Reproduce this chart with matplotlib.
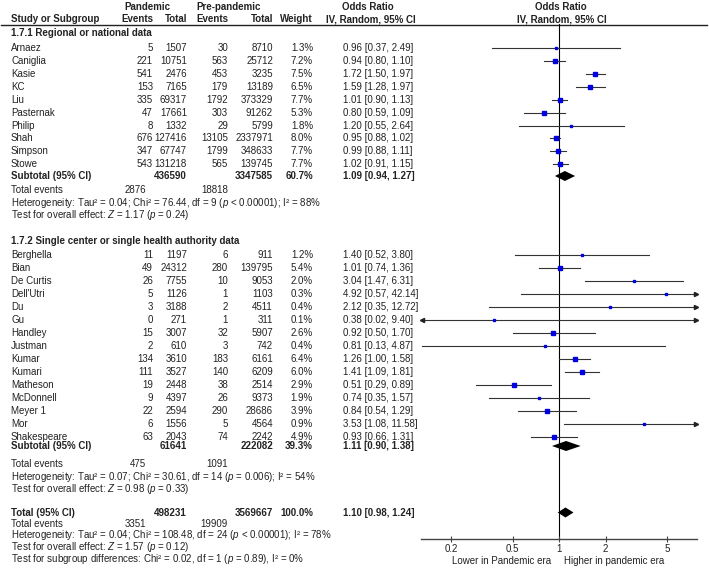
import matplotlib
matplotlib.use('Agg')
import matplotlib.pyplot as plt
import numpy as np

plt.rcParams['font.family'] = ['Liberation Sans', 'DejaVu Sans']
plt.rcParams['mathtext.fontset'] = 'custom'
plt.rcParams['mathtext.it'] = 'Liberation Sans:italic'
plt.rcParams['mathtext.rm'] = 'Liberation Sans'

# ---- data ----
names1 = ['Arnaez', 'Caniglia', 'Kasie', 'KC', 'Liu', 'Pasternak', 'Philip', 'Shah', 'Simpson', 'Stowe']
ev_p1 = [5, 221, 541, 153, 335, 47, 8, 676, 347, 543]
tot_p1 = [1507, 10751, 2476, 7165, 69317, 17661, 1332, 127416, 67747, 131218]
ev_pre1 = [30, 563, 453, 179, 1792, 303, 29, 13105, 1799, 565]
tot_pre1 = [8710, 25712, 3235, 13189, 373329, 91262, 5799, 2337971, 348633, 139745]
w1 = [1.3, 7.2, 7.5, 6.5, 7.7, 5.3, 1.8, 8.0, 7.7, 7.7]
or1 = [0.96, 0.94, 1.72, 1.59, 1.01, 0.80, 1.20, 0.95, 0.99, 1.02]
lo1 = [0.37, 0.80, 1.50, 1.28, 0.90, 0.59, 0.55, 0.88, 0.88, 0.91]
hi1 = [2.49, 1.10, 1.97, 1.97, 1.13, 1.09, 2.64, 1.02, 1.11, 1.15]

names2 = ['Berghella', 'Bian', 'De Curtis', "Dell'Utri", 'Du', 'Gu', 'Handley', 'Justman', 'Kumar',
          'Kumari', 'Matheson', 'McDonnell', 'Meyer 1', 'Mor', 'Shakespeare']
ev_p2 = [11, 49, 26, 5, 3, 0, 15, 2, 134, 111, 19, 9, 22, 6, 63]
tot_p2 = [1197, 24312, 7755, 1126, 3188, 271, 3007, 610, 3610, 3527, 2448, 4397, 2594, 1556, 2043]
ev_pre2 = [6, 280, 10, 1, 2, 1, 32, 3, 183, 140, 38, 26, 290, 5, 74]
tot_pre2 = [911, 139795, 9053, 1103, 4511, 311, 5907, 742, 6161, 6209, 2514, 9373, 28686, 4564, 2242]
w2 = [1.2, 5.4, 2.0, 0.3, 0.4, 0.1, 2.6, 0.4, 6.4, 6.0, 2.9, 1.9, 3.9, 0.9, 4.9]
or2 = [1.40, 1.01, 3.04, 4.92, 2.12, 0.38, 0.92, 0.81, 1.26, 1.41, 0.51, 0.74, 0.84, 3.53, 0.93]
lo2 = [0.52, 0.74, 1.47, 0.57, 0.35, 0.02, 0.50, 0.13, 1.00, 1.09, 0.29, 0.35, 0.54, 1.08, 0.66]
hi2 = [3.80, 1.36, 6.31, 42.14, 12.72, 9.40, 1.70, 4.87, 1.58, 1.81, 0.89, 1.57, 1.29, 11.58, 1.31]

# subtotal / total rows: pandemic total, pre total, weight, OR, lo, hi, pandemic events, pre events
sub1 = [436590, 3347585, 60.7, 1.09, 0.94, 1.27, 2876, 18818]
sub2 = [61641, 222082, 39.3, 1.11, 0.90, 1.38, 475, 1091]
total = [498231, 3569667, 100.0, 1.10, 0.98, 1.24, 3351, 19909]

het1 = ['Heterogeneity: Tau\u00b2 = 0.04; Chi\u00b2 = 76.44, df = 9 ($p$ < 0.00001); I\u00b2 = 88%',
        'Test for overall effect: $Z$ = 1.17 ($p$ = 0.24)']
het2 = ['Heterogeneity: Tau\u00b2 = 0.07; Chi\u00b2 = 30.61, df = 14 ($p$ = 0.006); I\u00b2 = 54%',
        'Test for overall effect: $Z$ = 0.98 ($p$ = 0.33)']
het_t = ['Heterogeneity: Tau\u00b2 = 0.04; Chi\u00b2 = 108.48, df = 24 ($p$ < 0.00001); I\u00b2 = 78%',
         'Test for overall effect: $Z$ = 1.57 ($p$ = 0.12)',
         'Test for subgroup differences: Chi\u00b2 = 0.02, df = 1 ($p$ = 0.89), I\u00b2 = 0%']

ticks = [0.2, 0.5, 1, 2, 5]

# ---- layout (pixel coordinates) ----
W, H = 709, 575
fs = 7
tc = '#222222'
xmin, xmax = 0.128, 7.8
col_ev1, col_tot1, col_ev2, col_tot2, col_w, col_or = 153, 187, 228, 273, 313, 343

fig = plt.figure(figsize=(W / 100, H / 100), dpi=100)
ax0 = fig.add_axes([0, 0, 1, 1])
ax0.set_xlim(0, W)
ax0.set_ylim(H, 0)
ax0.axis('off')

ax = fig.add_axes([421 / W, (H - 539) / H, (697 - 421) / W, (539 - 24) / H])
ax.patch.set_alpha(0)
ax.set_xscale('log')
ax.set_xlim(xmin, xmax)
ax.set_ylim(539, 24)
for s in ['left', 'right', 'top']:
    ax.spines[s].set_visible(False)
ax.spines['bottom'].set_color('#444444')
ax.spines['bottom'].set_linewidth(1.0)
ax.set_yticks([])
ax.set_xticks(ticks)
ax.set_xticklabels([str(t) for t in ticks])
ax.xaxis.set_minor_locator(matplotlib.ticker.NullLocator())
ax.tick_params(axis='x', direction='inout', length=5, width=0.8, color='#444444',
               labelsize=fs, labelcolor=tc, pad=1)
ax.axvline(1, color='black', lw=0.8, zorder=1)


def t(x, y, s, ha='left', bold=False):
    ax0.text(x, y, s, ha=ha, va='center', fontsize=fs, color=tc,
             fontweight='bold' if bold else 'normal')


# headers
t(147, 6.5, 'Pandemic', 'center', True)
t(228.5, 6.5, 'Pre-pandemic', 'center', True)
t(368, 6.5, 'Odds Ratio', 'center', True)
t(561, 6.5, 'Odds Ratio', 'center', True)
t(11, 19.5, 'Study or Subgroup', bold=True)
t(col_ev1, 19.5, 'Events', 'right', True)
t(col_tot1, 19.5, 'Total', 'right', True)
t(196, 19.5, 'Events', 'left', True)
t(col_tot2, 19.5, 'Total', 'right', True)
t(col_w, 19.5, 'Weight', 'right', True)
t(371, 19.5, 'IV, Random, 95% CI', 'center', True)
t(562, 19.5, 'IV, Random, 95% CI', 'center', True)
ax0.plot([1, 707], [24.5, 24.5], color=tc, lw=1.0)


def study_rows(y0, names, evp, totp, evpre, totpre, w, orr, lo, hi):
    ys = []
    for i, nm in enumerate(names):
        y = y0 + 12.97 * i
        ys.append(y)
        t(11, y, nm)
        t(col_ev1, y, str(evp[i]), 'right')
        t(col_tot1, y, str(totp[i]), 'right')
        t(col_ev2, y, str(evpre[i]), 'right')
        t(col_tot2, y, str(totpre[i]), 'right')
        t(col_w, y, '%.1f%%' % w[i], 'right')
        t(col_or, y, '%.2f [%.2f, %.2f]' % (orr[i], lo[i], hi[i]))
        a, b = max(lo[i], xmin * 1.005), min(hi[i], xmax / 1.005)
        ax.plot([a, b], [y, y], color='#333333', lw=0.8, zorder=2)
        if hi[i] > xmax:
            ax.plot([xmax / 1.01], [y], marker='>', ms=3, color='#222222', zorder=3, clip_on=False)
        if lo[i] < xmin:
            ax.plot([xmin * 1.01], [y], marker='<', ms=3, color='#222222', zorder=3, clip_on=False)
        ax.plot([orr[i]], [y], marker='s', ms=1.6 + 0.22 * w[i], color='#0000e0',
                mec='#0000e0', zorder=4)
    return ys


def diamond(y, orr, lo, hi):
    ax.fill([lo, orr, hi, orr], [y, y - 5, y, y + 5], color='black', zorder=4, lw=0)


def summary(y, label, vals, bold_events=False):
    t(11, y, label, bold=True)
    t(col_tot1, y, str(vals[0]), 'right', True)
    t(col_tot2, y, str(vals[1]), 'right', True)
    t(col_w, y, '%.1f%%' % vals[2], 'right', True)
    t(col_or, y, '%.2f [%.2f, %.2f]' % (vals[3], vals[4], vals[5]), bold=True)
    diamond(y, vals[3], vals[4], vals[5])


# group 1
t(11, 32.5, '1.7.1 Regional or national data', bold=True)
study_rows(47.7, names1, ev_p1, tot_p1, ev_pre1, tot_pre1, w1, or1, lo1, hi1)
summary(176, 'Subtotal (95% CI)', sub1)
t(11, 190, 'Total events')
t(146, 190, str(sub1[6]), 'right')
t(228, 190, str(sub1[7]), 'right')
t(11, 203.5, het1[0])
t(11, 215.5, het1[1])

# group 2
t(11, 241, '1.7.2 Single center or single health authority data', bold=True)
study_rows(255.3, names2, ev_p2, tot_p2, ev_pre2, tot_pre2, w2, or2, lo2, hi2)
summary(446, 'Subtotal (95% CI)', sub2)
t(11, 464, 'Total events')
t(146, 464, str(sub2[6]), 'right')
t(228, 464, str(sub2[7]), 'right')
t(11, 477, het2[0])
t(11, 489, het2[1])

# overall
summary(512.5, 'Total (95% CI)', total)
t(11, 524, 'Total events')
t(146, 524, str(total[6]), 'right')
t(228, 524, str(total[7]), 'right')
t(11, 535.5, het_t[0])
t(11, 547.5, het_t[1])
t(11, 559.5, het_t[2])

t(551.5, 560.5, 'Lower in Pandemic era', 'right')
t(563.5, 560.5, 'Higher in pandemic era', 'left')

fig.savefig('out.png', dpi=100)
